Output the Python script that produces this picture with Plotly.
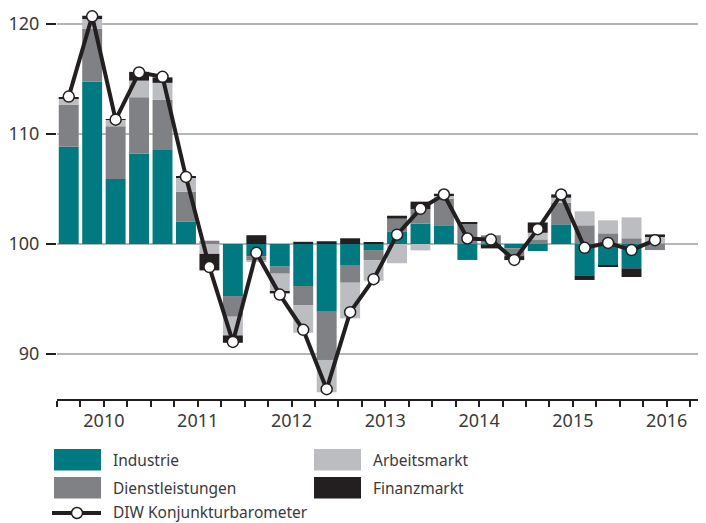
import plotly.graph_objects as go

# ---------------- data ----------------
quarters = ["2010Q1", "2010Q2", "2010Q3", "2010Q4",
            "2011Q1", "2011Q2", "2011Q3", "2011Q4",
            "2012Q1", "2012Q2", "2012Q3", "2012Q4",
            "2013Q1", "2013Q2", "2013Q3", "2013Q4",
            "2014Q1", "2014Q2", "2014Q3", "2014Q4",
            "2015Q1", "2015Q2", "2015Q3", "2015Q4",
            "2016Q1", "2016Q2"]

# contributions (index points relative to 100)
industrie = [8.85, 14.75, 5.9, 8.2, 8.55, 2.05, 0.0, -4.73,
             -1.1, -2.06, -3.82, -6.15, -1.91, -0.55, 1.15, 1.85,
             1.7, -1.45, -0.1, -0.4, -0.64, 1.79, -2.85, -1.94,
             -2.21, 0.02]
dienstleistungen = [3.8, 4.8, 4.8, 5.15, 4.55, 2.7, 0.3, -1.88,
                    -0.36, -0.64, -1.73, -4.39, -1.61, -0.91, 1.15, 1.33,
                    2.42, 1.88, 0.79, -0.7, 0.42, 1.97, 1.7, 0.97,
                    0.52, -0.55]
arbeitsmarkt = [0.6, 0.9, 0.6, 1.5, 1.55, 1.3, -0.9, -1.7,
                -0.18, -1.64, -2.52, -2.94, -3.24, -1.88, -1.75, -0.58,
                0.27, 0.0, 0.0, 0.0, 0.6, 0.45, 1.27, 1.18,
                1.9, 0.67]
finanzmarkt = [0.1, 0.3, 0.05, 0.8, 0.5, 0.05, -1.5, -0.67,
               0.8, -0.15, 0.2, 0.25, 0.52, 0.1, 0.27, 0.67,
               0.18, 0.05, -0.3, -0.36, 0.94, 0.3, -0.42, -0.09,
               -0.79, 0.18]
barometer = [113.4, 120.7, 111.3, 115.6, 115.2, 106.1, 97.9, 91.1,
             99.2, 95.4, 92.2, 86.8, 93.8, 96.8, 100.85, 103.2,
             104.5, 100.5, 100.4, 98.55, 101.35, 104.5, 99.65, 100.1,
             99.45, 100.35]

years = ["2010", "2011", "2012", "2013", "2014", "2015", "2016"]
y_ticks = [90, 100, 110, 120]
base_value = 100

series_names = ["Industrie", "Dienstleistungen", "Arbeitsmarkt", "Finanzmarkt"]
line_name = "DIW Konjunkturbarometer"

# ---------------- styling ----------------
C_TEAL = "#007A80"
C_DGRAY = "#808184"
C_LGRAY = "#BBBDC0"
C_BLACK = "#231F20"
C_TEXT = "#3a3a3a"
C_GRID = "#B5B5B5"
FONT = "Noto Sans"

OFF = 8  # page body margin offset of the figure
W, H = 706 - OFF, 523 - OFF
ML, MR, MT = 57 - OFF, 0, 0
PLOT_BOTTOM_PAGE = 399
MB = H - (PLOT_BOTTOM_PAGE - OFF)
PW, PH = W - ML - MR, H - MT - MB

UNIT_PX = 11.0      # px per index point
Y100_PAGE = 244     # page y of the 100 line
Q_PX = 23.45        # px per quarter

x = list(range(len(quarters)))
series = [industrie, dienstleistungen, arbeitsmarkt, finanzmarkt]
colors = [C_TEAL, C_DGRAY, C_LGRAY, C_BLACK]

fig = go.Figure()
for name, vals, col in zip(series_names, series, colors):
    fig.add_trace(go.Bar(x=x, y=vals, name=name, marker=dict(color=col, line=dict(width=0)),
                         showlegend=False, hoverinfo="skip"))

fig.add_trace(go.Scatter(
    x=x, y=[v - base_value for v in barometer], name=line_name,
    mode="lines+markers", cliponaxis=False,
    line=dict(color=C_BLACK, width=4),
    marker=dict(size=11, color="white", line=dict(color=C_BLACK, width=1.5)),
    showlegend=False))

n_years = len(years)
year_centres = [4 * i + 1.5 for i in range(n_years)]
year_bounds = [4 * i - 0.5 for i in range(n_years + 1)]
quarter_bounds = [q - 0.5 for q in range(4 * n_years + 1)]

x_range = [-0.5, -0.5 + PW / Q_PX]
y_hi = (Y100_PAGE - OFF) / UNIT_PX
y_lo = -(PLOT_BOTTOM_PAGE - Y100_PAGE) / UNIT_PX

fig.update_layout(
    width=W, height=H,
    margin=dict(l=ML, r=MR, t=MT, b=MB, autoexpand=False),
    paper_bgcolor="white", plot_bgcolor="white",
    barmode="relative", bargap=0.15,
    font=dict(family=FONT, color=C_TEXT, size=18),
    showlegend=False,
    xaxis=dict(
        range=x_range, showgrid=False, zeroline=False,
        showline=True, linecolor=C_BLACK, linewidth=1.5,
        tickmode="array", tickvals=year_bounds, ticktext=[""] * len(year_bounds),
        ticks="outside", ticklen=10, tickwidth=1.5, tickcolor=C_BLACK,
        minor=dict(tickmode="array", tickvals=quarter_bounds, ticks="outside",
                   ticklen=6, tickwidth=1.5, tickcolor=C_BLACK, showgrid=False),
    ),
    xaxis2=dict(
        overlaying="x", matches="x", side="bottom", anchor="y",
        showgrid=False, zeroline=False, showline=False,
        tickmode="array", tickvals=year_centres, ticktext=years,
        ticks="outside", ticklen=5, tickcolor="rgba(0,0,0,0)",
        tickfont=dict(size=18, color=C_TEXT, family=FONT),
    ),
    yaxis=dict(
        range=[y_lo, y_hi], showgrid=True, gridcolor=C_GRID, gridwidth=1.5,
        zeroline=False, showline=False,
        tickmode="array", tickvals=[t - base_value for t in y_ticks],
        ticktext=[str(t) for t in y_ticks],
        ticks="outside", ticklen=10, tickwidth=2, tickcolor=C_BLACK,
        ticklabelstandoff=3,
        tickfont=dict(size=18, color=C_TEXT, family=FONT),
    ),
)

# invisible trace to activate the year-label axis
fig.add_trace(go.Scatter(x=[x_range[0]], y=[0], xaxis="x2", mode="markers",
                         marker=dict(opacity=0), showlegend=False, hoverinfo="skip"))

# ---------------- custom legend (page pixel positions) ----------------
def px_x(px):
    return (px - OFF - ML) / PW

def px_y(py):
    return (MT + PH - (py - OFF)) / PH

legend_items = [
    (series_names[0], C_TEAL, 54, 449),
    (series_names[1], C_DGRAY, 54, 477),
    (series_names[2], C_LGRAY, 314, 449),
    (series_names[3], C_BLACK, 314, 477),
]
LEG_FONT = dict(size=15.5, color=C_TEXT, family=FONT)
shapes = []
annotations = []
for name, col, lx, ly in legend_items:
    shapes.append(dict(type="rect", xref="paper", yref="paper",
                       x0=px_x(lx), x1=px_x(lx + 47), y0=px_y(ly + 21.5), y1=px_y(ly),
                       fillcolor=col, line=dict(width=0)))
    annotations.append(dict(xref="paper", yref="paper", x=px_x(111), y=px_y(ly + 11),
                            text=name, showarrow=False, xanchor="left", yanchor="middle",
                            font=LEG_FONT))
    annotations[-1]["x"] = px_x(lx + 57)
# line entry
shapes.append(dict(type="line", xref="paper", yref="paper",
                   x0=px_x(52), x1=px_x(101), y0=px_y(513), y1=px_y(513),
                   line=dict(color=C_BLACK, width=4)))
shapes.append(dict(type="circle", xref="paper", yref="paper",
                   x0=px_x(71.5), x1=px_x(82.5), y0=px_y(518.5), y1=px_y(507.5),
                   fillcolor="white", line=dict(color=C_BLACK, width=1.5)))
annotations.append(dict(xref="paper", yref="paper", x=px_x(111), y=px_y(511.5),
                        text=line_name, showarrow=False, xanchor="left", yanchor="middle",
                        font=LEG_FONT))

fig.update_layout(shapes=shapes, annotations=annotations)

fig.write_html("out.html")
